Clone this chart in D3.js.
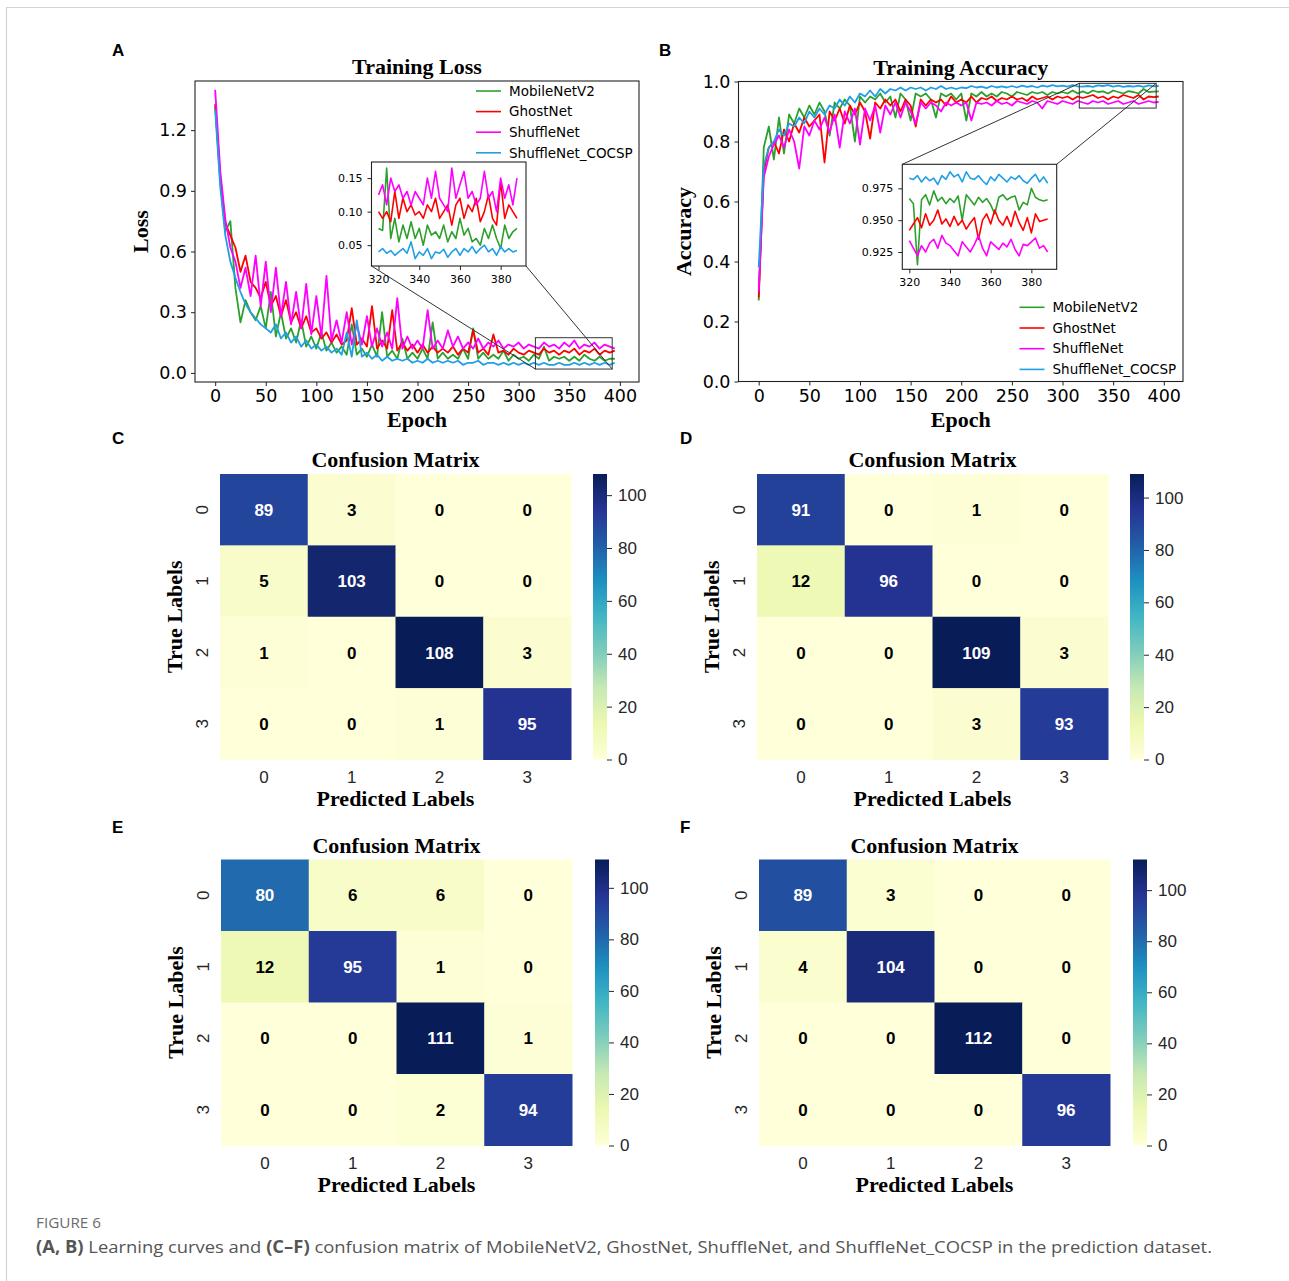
<!DOCTYPE html>
<html>
<head>
<meta charset="utf-8">
<script src="https://cdn.jsdelivr.net/npm/d3@7"></script>
<style>
  body { margin: 0; background: #fff; }
  svg text { fill: #000; }
</style>
</head>
<body>
<div id="chart"></div>
<script>
// ---- data ----
const seriesNames = ['MobileNetV2', 'GhostNet', 'ShuffleNet', 'ShuffleNet_COCSP']
const seriesColors = ['#2ca02c', '#ff0000', '#ff00ff', '#1f9fe6']

// training loss, every 5th epoch (0..395)
const lossMobile = [
  1.32, 0.95, 0.70, 0.75, 0.42, 0.25, 0.36, 0.30, 0.26, 0.33,
  0.22, 0.40, 0.18, 0.30, 0.17, 0.22, 0.15, 0.26, 0.13, 0.18,
  0.12, 0.20, 0.11, 0.15, 0.10, 0.13, 0.09, 0.24, 0.09, 0.12,
  0.08, 0.14, 0.08, 0.30, 0.08, 0.11, 0.07, 0.17, 0.07, 0.10,
  0.07, 0.12, 0.07, 0.25, 0.07, 0.10, 0.07, 0.09, 0.07, 0.12,
  0.07, 0.22, 0.07, 0.10, 0.07, 0.09, 0.07, 0.11, 0.06, 0.09,
  0.07, 0.08, 0.06, 0.09, 0.07, 0.13, 0.06, 0.08, 0.07, 0.08,
  0.06, 0.08, 0.06, 0.09, 0.07, 0.06, 0.08, 0.06, 0.07, 0.07
]
const lossGhost = [
  1.33, 0.97, 0.74, 0.68, 0.62, 0.50, 0.58, 0.45, 0.42, 0.37,
  0.45, 0.33, 0.38, 0.28, 0.36, 0.25, 0.30, 0.22, 0.28, 0.20,
  0.22, 0.17, 0.20, 0.15, 0.19, 0.14, 0.16, 0.32, 0.14, 0.17,
  0.13, 0.33, 0.12, 0.16, 0.12, 0.31, 0.11, 0.15, 0.11, 0.14,
  0.10, 0.14, 0.10, 0.13, 0.10, 0.12, 0.10, 0.13, 0.09, 0.12,
  0.10, 0.21, 0.10, 0.12, 0.09, 0.19, 0.10, 0.11, 0.09, 0.12,
  0.10, 0.09, 0.11, 0.10, 0.09, 0.12, 0.10, 0.11, 0.09, 0.11,
  0.10, 0.12, 0.09, 0.11, 0.10, 0.12, 0.09, 0.11, 0.10, 0.11
]
const lossShuffle = [
  1.40, 1.00, 0.76, 0.62, 0.55, 0.42, 0.52, 0.38, 0.58, 0.33,
  0.55, 0.30, 0.52, 0.28, 0.45, 0.24, 0.40, 0.22, 0.44, 0.19,
  0.38, 0.18, 0.48, 0.16, 0.26, 0.15, 0.30, 0.14, 0.24, 0.14,
  0.28, 0.13, 0.22, 0.13, 0.20, 0.12, 0.37, 0.12, 0.18, 0.12,
  0.16, 0.12, 0.31, 0.12, 0.16, 0.12, 0.21, 0.13, 0.18, 0.12,
  0.15, 0.12, 0.17, 0.12, 0.15, 0.13, 0.16, 0.12, 0.14, 0.13,
  0.15, 0.12, 0.14, 0.13, 0.12, 0.15, 0.13, 0.14, 0.12, 0.15,
  0.13, 0.16, 0.12, 0.14, 0.13, 0.15, 0.12, 0.14, 0.13, 0.12
]
const lossCocsp = [
  1.30, 0.92, 0.68, 0.55, 0.47, 0.40, 0.34, 0.30, 0.27, 0.24,
  0.22, 0.20, 0.24, 0.17, 0.20, 0.15, 0.18, 0.13, 0.16, 0.12,
  0.14, 0.11, 0.13, 0.10, 0.12, 0.09, 0.20, 0.08, 0.26, 0.08,
  0.10, 0.07, 0.09, 0.06, 0.08, 0.06, 0.07, 0.06, 0.07, 0.05,
  0.06, 0.05, 0.07, 0.05, 0.06, 0.05, 0.06, 0.05, 0.06, 0.04,
  0.05, 0.05, 0.06, 0.04, 0.05, 0.05, 0.04, 0.05, 0.04, 0.05,
  0.04, 0.05, 0.04, 0.05, 0.04, 0.05, 0.04, 0.04, 0.05, 0.04,
  0.04, 0.05, 0.04, 0.05, 0.04, 0.05, 0.04, 0.05, 0.04, 0.05
]

// training loss zoom, every 2nd epoch (320..388)
const lossZoomMobile = [
  0.075, 0.072, 0.165, 0.060, 0.090, 0.055, 0.080, 0.060, 0.085, 0.060,
  0.075, 0.050, 0.080, 0.065, 0.070, 0.060, 0.080, 0.055, 0.070, 0.060,
  0.090, 0.065, 0.075, 0.055, 0.060, 0.050, 0.075, 0.060, 0.080, 0.060,
  0.045, 0.080, 0.060, 0.070, 0.075
]
const lossZoomGhost = [
  0.100, 0.090, 0.100, 0.085, 0.130, 0.090, 0.120, 0.100, 0.110, 0.095,
  0.100, 0.090, 0.110, 0.100, 0.120, 0.090, 0.100, 0.110, 0.080, 0.110,
  0.120, 0.090, 0.110, 0.100, 0.120, 0.085, 0.100, 0.125, 0.090, 0.080,
  0.145, 0.090, 0.110, 0.100, 0.090
]
const lossZoomShuffle = [
  0.125, 0.140, 0.110, 0.150, 0.130, 0.140, 0.120, 0.130, 0.110, 0.130,
  0.120, 0.110, 0.150, 0.120, 0.160, 0.120, 0.110, 0.100, 0.165, 0.120,
  0.140, 0.160, 0.120, 0.130, 0.110, 0.120, 0.160, 0.120, 0.130, 0.100,
  0.150, 0.120, 0.140, 0.110, 0.150
]
const lossZoomCocsp = [
  0.040, 0.045, 0.038, 0.042, 0.035, 0.040, 0.045, 0.038, 0.055, 0.030,
  0.040, 0.035, 0.045, 0.030, 0.040, 0.038, 0.044, 0.032, 0.040, 0.045,
  0.035, 0.045, 0.040, 0.048, 0.038, 0.045, 0.050, 0.040, 0.045, 0.035,
  0.048, 0.040, 0.045, 0.040, 0.042
]

// training accuracy, every 5th epoch (0..395)
const accMobile = [
  0.27, 0.78, 0.85, 0.74, 0.88, 0.76, 0.89, 0.86, 0.91, 0.88,
  0.92, 0.89, 0.93, 0.90, 0.82, 0.93, 0.91, 0.94, 0.92, 0.80,
  0.95, 0.93, 0.95, 0.94, 0.96, 0.93, 0.95, 0.88, 0.96, 0.94,
  0.87, 0.96, 0.95, 0.96, 0.94, 0.88, 0.96, 0.95, 0.96, 0.94,
  0.96, 0.87, 0.96, 0.95, 0.965, 0.95, 0.96, 0.95, 0.965, 0.96,
  0.95, 0.965, 0.96, 0.955, 0.965, 0.96, 0.965, 0.955, 0.965, 0.96,
  0.965, 0.96, 0.97, 0.96, 0.967, 0.96, 0.97, 0.965, 0.967, 0.96,
  0.97, 0.965, 0.96, 0.968, 0.965, 0.96, 0.975, 0.965, 0.966, 0.967
]
const accGhost = [
  0.28, 0.70, 0.78, 0.80, 0.76, 0.84, 0.80, 0.86, 0.83, 0.88,
  0.85, 0.87, 0.89, 0.73, 0.90, 0.87, 0.91, 0.86, 0.92, 0.89,
  0.93, 0.90, 0.81, 0.93, 0.91, 0.94, 0.92, 0.94, 0.90, 0.94,
  0.92, 0.85, 0.94, 0.92, 0.94, 0.93, 0.94, 0.92, 0.95, 0.93,
  0.94, 0.93, 0.95, 0.93, 0.945, 0.94, 0.95, 0.935, 0.945, 0.94,
  0.95, 0.94, 0.945, 0.935, 0.95, 0.94, 0.945, 0.95, 0.94, 0.95,
  0.945, 0.95, 0.94, 0.95, 0.945, 0.95, 0.955, 0.945, 0.95, 0.94,
  0.95, 0.945, 0.955, 0.95, 0.945, 0.955, 0.94, 0.95, 0.948, 0.95
]
const accShuffle = [
  0.30, 0.68, 0.75, 0.79, 0.82, 0.78, 0.84, 0.80, 0.71, 0.85,
  0.82, 0.87, 0.84, 0.88, 0.83, 0.89, 0.78, 0.90, 0.86, 0.91,
  0.79, 0.91, 0.87, 0.92, 0.83, 0.92, 0.89, 0.93, 0.88, 0.93,
  0.90, 0.86, 0.93, 0.91, 0.93, 0.92, 0.90, 0.93, 0.92, 0.93,
  0.92, 0.93, 0.87, 0.93, 0.925, 0.93, 0.92, 0.935, 0.925, 0.93,
  0.92, 0.935, 0.93, 0.925, 0.935, 0.93, 0.91, 0.935, 0.93, 0.925,
  0.935, 0.93, 0.925, 0.935, 0.93, 0.925, 0.935, 0.93, 0.935, 0.925,
  0.93, 0.935, 0.925, 0.93, 0.935, 0.925, 0.93, 0.935, 0.93, 0.932
]
const accCocsp = [
  0.38, 0.72, 0.78, 0.80, 0.84, 0.82, 0.86, 0.85, 0.88, 0.86,
  0.90, 0.88, 0.91, 0.89, 0.92, 0.91, 0.94, 0.92, 0.95, 0.93,
  0.96, 0.95, 0.97, 0.95, 0.975, 0.96, 0.975, 0.97, 0.98, 0.97,
  0.98, 0.975, 0.98, 0.97, 0.98, 0.975, 0.985, 0.975, 0.98, 0.975,
  0.98, 0.978, 0.985, 0.98, 0.983, 0.978, 0.985, 0.98, 0.984, 0.98,
  0.985, 0.98, 0.986, 0.982, 0.985, 0.98, 0.986, 0.983, 0.988, 0.984,
  0.986, 0.983, 0.988, 0.984, 0.983, 0.985, 0.982, 0.987, 0.985, 0.988,
  0.983, 0.986, 0.982, 0.985, 0.983, 0.986, 0.982, 0.987, 0.984, 0.985
]

// training accuracy zoom, every 2nd epoch (320..388)
const accZoomMobile = [
  0.967, 0.963, 0.915, 0.966, 0.970, 0.962, 0.973, 0.965, 0.968, 0.963,
  0.967, 0.964, 0.969, 0.950, 0.970, 0.966, 0.962, 0.968, 0.964, 0.967,
  0.962, 0.955, 0.968, 0.970, 0.966, 0.968, 0.969, 0.958, 0.964, 0.962,
  0.975, 0.968, 0.966, 0.965, 0.966
]
const accZoomGhost = [
  0.942, 0.947, 0.952, 0.944, 0.955, 0.946, 0.950, 0.958, 0.947, 0.951,
  0.945, 0.953, 0.946, 0.950, 0.943, 0.948, 0.952, 0.935, 0.950, 0.955,
  0.947, 0.958, 0.950, 0.946, 0.953, 0.945, 0.957, 0.948, 0.942, 0.952,
  0.940, 0.955, 0.949, 0.950, 0.951
]
const accZoomShuffle = [
  0.934, 0.928, 0.922, 0.930, 0.925, 0.932, 0.935, 0.928, 0.938, 0.932,
  0.930, 0.926, 0.922, 0.933, 0.929, 0.925, 0.931, 0.938, 0.928, 0.922,
  0.933, 0.930, 0.927, 0.932, 0.929, 0.935, 0.927, 0.922, 0.931, 0.930,
  0.933, 0.936, 0.928, 0.930, 0.925
]
const accZoomCocsp = [
  0.983, 0.982, 0.985, 0.980, 0.984, 0.981, 0.983, 0.978, 0.985, 0.982,
  0.988, 0.984, 0.986, 0.980, 0.988, 0.983, 0.982, 0.985, 0.981, 0.978,
  0.984, 0.981, 0.986, 0.983, 0.980, 0.984, 0.982, 0.985, 0.981, 0.979,
  0.983, 0.986, 0.980, 0.984, 0.979
]

const epochs = d3.range(0, 400, 5)
const zoomEpochs = d3.range(320, 390, 2)

// confusion matrices
const classLabels = ['0', '1', '2', '3']
const cmC = [[89, 3, 0, 0], [5, 103, 0, 0], [1, 0, 108, 3], [0, 0, 1, 95]]
const cmD = [[91, 0, 1, 0], [12, 96, 0, 0], [0, 0, 109, 3], [0, 0, 3, 93]]
const cmE = [[80, 6, 6, 0], [12, 95, 1, 0], [0, 0, 111, 1], [0, 0, 2, 94]]
const cmF = [[89, 3, 0, 0], [4, 104, 0, 0], [0, 0, 112, 0], [0, 0, 0, 96]]
const cbTicks = [0, 20, 40, 60, 80, 100]

// ---- drawing ----
const SERIF = '"Liberation Serif", "Times New Roman", serif'
const MPL = '"DejaVu Sans", sans-serif'
const ARIAL = '"Liberation Sans", Arial, sans-serif'

const svg = d3.select('#chart').append('svg')
  .attr('width', 1289).attr('height', 1281)
  .style('display', 'block')

svg.append('rect').attr('width', 1289).attr('height', 1281).attr('fill', '#fff')
// figure border
svg.append('path').attr('d', 'M6.5,1281 V7.5 H1289')
  .attr('fill', 'none').attr('stroke', '#d4d4d4').attr('stroke-width', 1.2)

let clipId = 0

function toSeries(xs, ys) {
  return ys.map(vals => vals.map((v, i) => [xs[i], v]))
}

function drawLines(g, series, x, y, box, width) {
  const id = 'clip' + (clipId++)
  g.append('clipPath').attr('id', id).append('rect')
    .attr('x', box.left).attr('y', box.top).attr('width', box.width).attr('height', box.height)
  const line = d3.line().x(d => x(d[0])).y(d => y(d[1]))
  g.append('g').attr('clip-path', `url(#${id})`)
    .selectAll('path').data(series).join('path')
    .attr('d', line)
    .attr('fill', 'none')
    .attr('stroke', (d, i) => seriesColors[i])
    .attr('stroke-width', width)
    .attr('stroke-linejoin', 'round')
}

function drawAxes(g, x, y, box, o) {
  const xAxis = d3.axisBottom(x).tickValues(o.xTicks).tickSize(4).tickPadding(o.pad).tickSizeOuter(0)
    .tickFormat(o.xFmt)
  const yAxis = d3.axisLeft(y).tickValues(o.yTicks).tickSize(4).tickPadding(o.pad).tickSizeOuter(0)
    .tickFormat(o.yFmt)
  const gx = g.append('g').attr('transform', `translate(0,${box.top + box.height})`).call(xAxis)
  const gy = g.append('g').attr('transform', `translate(${box.left},0)`).call(yAxis)
  for (const a of [gx, gy]) {
    a.select('.domain').remove()
    a.selectAll('line').attr('stroke', '#222').attr('stroke-width', 1)
    a.selectAll('text').attr('font-family', MPL).attr('font-size', o.fontSize).attr('fill', '#111')
  }
  g.append('rect')
    .attr('x', box.left).attr('y', box.top).attr('width', box.width).attr('height', box.height)
    .attr('fill', 'none').attr('stroke', '#222').attr('stroke-width', 1.1)
}

function drawLinePanel(o) {
  const g = svg.append('g')
  const box = o.box
  const x = d3.scaleLinear().domain(o.xDomain).range([box.left, box.left + box.width])
  const y = d3.scaleLinear().domain(o.yDomain).range([box.top + box.height, box.top])

  drawLines(g, toSeries(epochs, o.data), x, y, box, 1.8)
  drawAxes(g, x, y, box, {
    xTicks: [0, 50, 100, 150, 200, 250, 300, 350, 400], yTicks: o.yTicks,
    xFmt: d3.format('d'), yFmt: d3.format('.1f'), fontSize: 17.5, pad: 4
  })

  // titles
  g.append('text').attr('x', box.left + box.width / 2).attr('y', box.top - 7)
    .attr('text-anchor', 'middle').attr('font-family', SERIF).attr('font-weight', 'bold')
    .attr('font-size', 22).text(o.title)
  g.append('text').attr('x', box.left + box.width / 2).attr('y', box.top + box.height + 45)
    .attr('text-anchor', 'middle').attr('font-family', SERIF).attr('font-weight', 'bold')
    .attr('font-size', 22).text('Epoch')
  g.append('text')
    .attr('transform', `translate(${o.yLabelX},${box.top + box.height / 2}) rotate(-90)`)
    .attr('text-anchor', 'middle').attr('font-family', SERIF).attr('font-weight', 'bold')
    .attr('font-size', 22).text(o.yLabel)

  // zoom rectangle + connectors
  const inset = o.inset
  const rx0 = x(inset.xDomain[0]), rx1 = x(inset.xDomain[1])
  const ry0 = y(inset.yDomain[1]), ry1 = y(inset.yDomain[0])
  g.append('rect').attr('x', rx0).attr('y', ry0).attr('width', rx1 - rx0).attr('height', ry1 - ry0)
    .attr('fill', 'none').attr('stroke', '#333').attr('stroke-width', 1)
  const ib = inset.box
  const links = inset.linkBottom
    ? [[ib.left, ib.top + ib.height, rx0, ry1], [ib.left + ib.width, ib.top + ib.height, rx1, ry1]]
    : [[ib.left, ib.top, rx0, ry0], [ib.left + ib.width, ib.top, rx1, ry0]]
  g.selectAll('line.link').data(links).join('line').attr('class', 'link')
    .attr('x1', d => d[0]).attr('y1', d => d[1]).attr('x2', d => d[2]).attr('y2', d => d[3])
    .attr('stroke', '#333').attr('stroke-width', 1)

  // inset
  const xi = d3.scaleLinear().domain(inset.xDomain).range([ib.left, ib.left + ib.width])
  const yi = d3.scaleLinear().domain(inset.yDomain).range([ib.top + ib.height, ib.top])
  g.append('rect').attr('x', ib.left).attr('y', ib.top).attr('width', ib.width).attr('height', ib.height)
    .attr('fill', '#fff')
  drawLines(g, toSeries(zoomEpochs, inset.data), xi, yi, ib, 1.6)
  drawAxes(g, xi, yi, ib, {
    xTicks: [320, 340, 360, 380], yTicks: inset.yTicks,
    xFmt: d3.format('d'), yFmt: d3.format(inset.yFmt), fontSize: 11, pad: 5
  })

  // legend
  const lg = g.append('g')
  seriesNames.forEach((name, i) => {
    const ly = o.legend.y + i * o.legend.step
    lg.append('line').attr('x1', o.legend.x).attr('x2', o.legend.x + 25)
      .attr('y1', ly).attr('y2', ly).attr('stroke', seriesColors[i]).attr('stroke-width', 1.6)
    lg.append('text').attr('x', o.legend.x + 33).attr('y', ly).attr('dy', '0.35em')
      .attr('font-family', MPL).attr('font-size', 13.5).attr('fill', '#111').text(name)
  })

  // panel letter
  g.append('text').attr('x', o.letter[0]).attr('y', o.letter[1])
    .attr('font-family', ARIAL).attr('font-weight', 'bold').attr('font-size', 17).text(o.letterText)
}

drawLinePanel({
  box: { left: 195, top: 81, width: 444, height: 301 },
  xDomain: [-19.95, 418.95], yDomain: [-0.045, 1.443],
  yTicks: [0, 0.3, 0.6, 0.9, 1.2],
  data: [lossMobile, lossGhost, lossShuffle, lossCocsp],
  title: 'Training Loss', yLabel: 'Loss', yLabelX: 148,
  legend: { x: 476, y: 91, step: 20.6 },
  letter: [112, 56], letterText: 'A',
  inset: {
    box: { left: 371.5, top: 162, width: 154.5, height: 104 },
    xDomain: [316.55, 392.45], yDomain: [0.019, 0.174],
    yTicks: [0.05, 0.10, 0.15], yFmt: '.2f',
    data: [lossZoomMobile, lossZoomGhost, lossZoomShuffle, lossZoomCocsp],
    linkBottom: true
  }
})

drawLinePanel({
  box: { left: 738.5, top: 81.5, width: 444.5, height: 300 },
  xDomain: [-19.95, 418.95], yDomain: [0, 1],
  yTicks: [0, 0.2, 0.4, 0.6, 0.8, 1.0],
  data: [accMobile, accGhost, accShuffle, accCocsp],
  title: 'Training Accuracy', yLabel: 'Accuracy', yLabelX: 691,
  legend: { x: 1019.5, y: 307.3, step: 20.7 },
  letter: [659, 56], letterText: 'B',
  inset: {
    box: { left: 902.3, top: 164.3, width: 154.4, height: 105 },
    xDomain: [316.55, 392.45], yDomain: [0.9114, 0.9939],
    yTicks: [0.925, 0.950, 0.975], yFmt: '.3f',
    data: [accZoomMobile, accZoomGhost, accZoomShuffle, accZoomCocsp],
    linkBottom: false
  }
})

// ---- confusion matrices ----
const ylgnbu = d3.schemeYlGnBu[9]

function luminance(c) {
  const rgb = d3.rgb(c)
  const f = v => { v /= 255; return v <= 0.03928 ? v / 12.92 : Math.pow((v + 0.055) / 1.055, 2.4) }
  return 0.2126 * f(rgb.r) + 0.7152 * f(rgb.g) + 0.0722 * f(rgb.b)
}

function drawHeatmap(matrix, p) {
  const g = svg.append('g')
  const vmax = d3.max(matrix.flat())
  const color = d3.scaleLinear()
    .domain(ylgnbu.map((c, i) => i / (ylgnbu.length - 1) * vmax))
    .range(ylgnbu).interpolate(d3.interpolateRgb)
  const x = d3.scaleBand().domain(classLabels).range([p.left, p.left + p.width])
  const y = d3.scaleBand().domain(classLabels).range([p.top, p.top + p.height])

  const cells = matrix.flatMap((row, r) => row.map((v, c) => ({ r: classLabels[r], c: classLabels[c], v })))
  g.selectAll('rect.cell').data(cells).join('rect').attr('class', 'cell')
    .attr('x', d => x(d.c)).attr('y', d => y(d.r))
    .attr('width', x.bandwidth() + 0.5).attr('height', y.bandwidth() + 0.5)
    .attr('fill', d => color(d.v))
  g.selectAll('text.val').data(cells).join('text').attr('class', 'val')
    .attr('x', d => x(d.c) + x.bandwidth() / 2).attr('y', d => y(d.r) + y.bandwidth() / 2)
    .attr('dy', '0.36em').attr('text-anchor', 'middle')
    .attr('font-family', ARIAL).attr('font-weight', 'bold').attr('font-size', 17)
    .style('fill', d => luminance(color(d.v)) < 0.408 ? '#fff' : '#000')
    .text(d => d.v)

  // tick labels
  g.selectAll('text.xt').data(classLabels).join('text').attr('class', 'xt')
    .attr('x', d => x(d) + x.bandwidth() / 2).attr('y', p.top + p.height + 17)
    .attr('dy', '0.36em').attr('text-anchor', 'middle')
    .attr('font-family', ARIAL).attr('font-size', 17).style('fill', '#262626').text(d => d)
  g.selectAll('text.yt').data(classLabels).join('text').attr('class', 'yt')
    .attr('transform', d => `translate(${p.left - 18},${y(d) + y.bandwidth() / 2}) rotate(-90)`)
    .attr('dy', '0.36em').attr('text-anchor', 'middle')
    .attr('font-family', ARIAL).attr('font-size', 17).style('fill', '#262626').text(d => d)

  // titles
  g.append('text').attr('x', p.left + p.width / 2).attr('y', p.top - 7)
    .attr('text-anchor', 'middle').attr('font-family', SERIF).attr('font-weight', 'bold')
    .attr('font-size', 22).text('Confusion Matrix')
  g.append('text').attr('x', p.left + p.width / 2).attr('y', p.top + p.height + 46)
    .attr('text-anchor', 'middle').attr('font-family', SERIF).attr('font-weight', 'bold')
    .attr('font-size', 22).text('Predicted Labels')
  g.append('text')
    .attr('transform', `translate(${p.left - 38},${p.top + p.height / 2}) rotate(-90)`)
    .attr('text-anchor', 'middle').attr('font-family', SERIF).attr('font-weight', 'bold')
    .attr('font-size', 22).text('True Labels')

  // colorbar
  const cb = { left: p.cbx, top: p.top, width: 14, height: p.height }
  const gid = 'grad' + (clipId++)
  const grad = svg.append('defs').append('linearGradient').attr('id', gid)
    .attr('x1', 0).attr('y1', 1).attr('x2', 0).attr('y2', 0)
  grad.selectAll('stop').data(ylgnbu).join('stop')
    .attr('offset', (d, i) => i / (ylgnbu.length - 1)).attr('stop-color', d => d)
  g.append('rect').attr('x', cb.left).attr('y', cb.top).attr('width', cb.width).attr('height', cb.height)
    .attr('fill', `url(#${gid})`)
  const cy = d3.scaleLinear().domain([0, vmax]).range([cb.top + cb.height, cb.top])
  const cbAxis = d3.axisRight(cy).tickValues(cbTicks).tickSize(5).tickPadding(6)
  const gc = g.append('g').attr('transform', `translate(${cb.left + cb.width},0)`).call(cbAxis)
  gc.select('.domain').remove()
  gc.selectAll('line').attr('stroke', '#262626')
  gc.selectAll('text').attr('font-family', ARIAL).attr('font-size', 17).style('fill', '#262626')

  g.append('text').attr('x', p.letter[0]).attr('y', p.letter[1])
    .attr('font-family', ARIAL).attr('font-weight', 'bold').attr('font-size', 17).text(p.letterText)
}

drawHeatmap(cmC, { left: 220, top: 474, width: 351, height: 285.5, cbx: 593, letter: [112, 444], letterText: 'C' })
drawHeatmap(cmD, { left: 757, top: 474, width: 351, height: 285.5, cbx: 1130, letter: [680, 444], letterText: 'D' })
drawHeatmap(cmE, { left: 221, top: 859.5, width: 351, height: 286, cbx: 595, letter: [112, 833], letterText: 'E' })
drawHeatmap(cmF, { left: 759, top: 859.5, width: 351, height: 286, cbx: 1133, letter: [680, 833], letterText: 'F' })

// ---- caption ----
svg.append('text').attr('x', 36).attr('y', 1228)
  .attr('font-family', '"Open Sans", sans-serif').attr('font-size', 14)
  .attr('textLength', 65).attr('lengthAdjust', 'spacingAndGlyphs')
  .style('fill', '#6b6b6b').text('FIGURE 6')
const cap = svg.append('text').attr('x', 36).attr('y', 1253)
  .attr('font-family', '"Open Sans", sans-serif').attr('font-size', 17)
  .attr('textLength', 1176).attr('lengthAdjust', 'spacingAndGlyphs')
  .style('fill', '#555')
cap.append('tspan').attr('font-weight', 'bold').text('(A, B)')
cap.append('tspan').text(' Learning curves and ')
cap.append('tspan').attr('font-weight', 'bold').text('(C–F)')
cap.append('tspan').text(' confusion matrix of MobileNetV2, GhostNet, ShuffleNet, and ShuffleNet_COCSP in the prediction dataset.')
</script>
</body>
</html>
